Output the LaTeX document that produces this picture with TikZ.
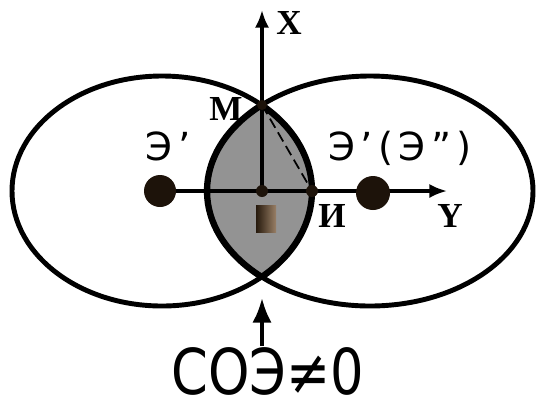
\documentclass[tikz,border=0pt]{standalone}
\usepackage{fontspec}
\setmainfont{Liberation Serif}
\newfontfamily\labelsans{DejaVu Sans}
\newfontfamily\labelsanswide[LetterSpace=14]{DejaVu Sans}
\usetikzlibrary{arrows.meta}

\tikzset{
  orbit/.style={line width=2.8pt},
  axisline/.style={line width=1.8pt, -{Latex[length=10pt,width=8pt]}},
  bigdot/.style={fill=black!85!brown},
  pointlbl/.style={font=\fontsize{20}{20}\selectfont\bfseries, inner sep=0pt},
  sanslbl/.style={font=\labelsanswide\fontsize{22}{22}\selectfont, inner sep=0pt},
}

\begin{document}
\begin{tikzpicture}[x=0.02cm, y=-0.02cm]
  \useasboundingbox (0,0) rectangle (536,400);

  %% the two ellipses and their common part
  \begin{scope}
    \clip (162,191) ellipse [x radius=150, y radius=115];
    \fill[gray!85] (370,191) ellipse [x radius=163, y radius=115];
    \draw[line width=3.6pt] (370,191) ellipse [x radius=163, y radius=115];
  \end{scope}
  \begin{scope}
    \clip (370,191) ellipse [x radius=163, y radius=115];
    \draw[line width=3.6pt] (162,191) ellipse [x radius=150, y radius=115];
  \end{scope}
  \draw[orbit] (162,191) ellipse [x radius=150, y radius=115];
  \draw[orbit] (370,191) ellipse [x radius=163, y radius=115];

  % Points
  \coordinate (O) at (262,191);
  \coordinate (M) at (262,105);
  \coordinate (I) at (312,191);
  \coordinate (E1) at (160,191);
  \coordinate (xend) at (262,10);
  \coordinate (yend) at (447,191);
  \coordinate (lensbot) at (262,298);
  \coordinate (arrowtail) at (262,346);

  % Axes
  \draw[axisline] (E1) -- (yend);
  \draw[axisline] (O) -- (xend);

  % Dashed chord
  \draw[line width=1pt, dash pattern=on 6pt off 3pt] (M) -- (I);

  \fill[bigdot] (E1) circle (16);
  \fill[bigdot] (373,193) circle (17);
  \fill[bigdot] (O) circle (6);
  \fill[bigdot] (I) circle (6);
  \fill[bigdot] (M) circle (5);

  % Labels
  \node[pointlbl] (xlbl) at (289,23) {X};
  \node[pointlbl] (ylbl) at (450,216) {Y};
  \node[pointlbl] (mlbl) at (226,109) {М};
  \node[pointlbl] (ilbl) at (332,216) {И};
  \node[sanslbl] (e1lbl) at (168,146) {Э’};
  \node[sanslbl] (e2lbl) at (400,148) {Э’(Э”)};
  \node[inner sep=0pt, minimum width=0.4cm, minimum height=0.54cm,
        left color=black!80!brown, right color=brown!40!gray] (olbl) at (266,219) {};

  \node[font=\labelsans\fontsize{30}{30}\selectfont, inner sep=0pt,
        yscale=1.2, transform shape] (soe) at (268,371) {СОЭ≠0};
  \draw[line width=2.2pt, -{Latex[length=14pt,width=11pt]}] (arrowtail) -- (lensbot);

\end{tikzpicture}
\end{document}
